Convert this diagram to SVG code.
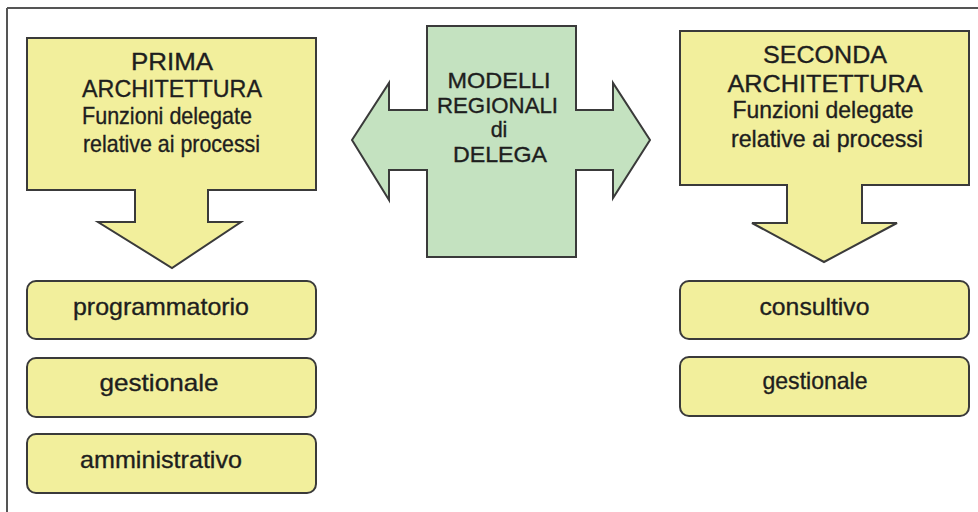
<svg xmlns="http://www.w3.org/2000/svg" width="978" height="512" viewBox="0 0 978 512">
<style>
.frame{stroke:#555;stroke-width:2;fill:none}
.y{fill:#f2ef9c;stroke:#3a3a3a;stroke-width:2;stroke-linejoin:miter}
.g{fill:#c4e2c0;stroke:#3a3a3a;stroke-width:2}
text{font-family:"Liberation Sans",Arial,sans-serif;fill:#1e1e1e;stroke:#1e1e1e;stroke-width:0.35;text-anchor:middle;font-size:24px}
.m{font-size:21.5px}
</style>
<rect width="978" height="512" fill="#fff"/>
<g id="frame">
<line class="frame" x1="7" y1="8" x2="978" y2="8"/>
<line class="frame" x1="7" y1="8" x2="7" y2="512"/>
</g>
<g id="prima">
<path class="y" d="M27,38 H316 V190 H208 V222 H241 L172,268 L98,222 H135 V190 H27 Z"/>
<text x="172" y="70" textLength="82" lengthAdjust="spacingAndGlyphs">PRIMA</text>
<text x="172" y="97" textLength="180" lengthAdjust="spacingAndGlyphs">ARCHITETTURA</text>
<text x="167" y="124" font-size="23" textLength="170" lengthAdjust="spacingAndGlyphs">Funzioni delegate</text>
<text x="171.5" y="152" font-size="23" textLength="177" lengthAdjust="spacingAndGlyphs">relative ai processi</text>
</g>
<g id="modelli">
<path class="g" d="M427,26 H576 V110 H613 V83 L650,140 L613,198 V170 H576 V257 H427 V170 H389 V200 L352,140 L389,83 V110 H427 Z"/>
<text class="m" x="499" y="88" textLength="103" lengthAdjust="spacingAndGlyphs">MODELLI</text>
<text class="m" x="497.5" y="113" textLength="121" lengthAdjust="spacingAndGlyphs">REGIONALI</text>
<text class="m" x="499" y="137">di</text>
<text class="m" x="500" y="162" textLength="94" lengthAdjust="spacingAndGlyphs">DELEGA</text>
</g>
<g id="seconda">
<path class="y" d="M680,31 H969 V185 H862 V223 H897 L824,262 L752,223 H787 V185 H680 Z"/>
<text x="825" y="63" textLength="124" lengthAdjust="spacingAndGlyphs">SECONDA</text>
<text x="825" y="92" textLength="195" lengthAdjust="spacingAndGlyphs">ARCHITETTURA</text>
<text x="823" y="118" font-size="23" textLength="181" lengthAdjust="spacingAndGlyphs">Funzioni delegate</text>
<text x="827" y="147" font-size="23" textLength="192" lengthAdjust="spacingAndGlyphs">relative ai processi</text>
</g>
<g id="programmatorio">
<rect class="y" x="27" y="281" width="289" height="58" rx="9"/>
<text x="161" y="315" textLength="176" lengthAdjust="spacingAndGlyphs">programmatorio</text>
</g>
<g id="gestionale-1">
<rect class="y" x="27" y="358" width="289" height="59" rx="9"/>
<text x="159" y="391" textLength="119" lengthAdjust="spacingAndGlyphs">gestionale</text>
</g>
<g id="amministrativo">
<rect class="y" x="27" y="434" width="289" height="59" rx="9"/>
<text x="161" y="468" textLength="162" lengthAdjust="spacingAndGlyphs">amministrativo</text>
</g>
<g id="consultivo">
<rect class="y" x="680" y="281" width="289" height="58" rx="9"/>
<text x="814.5" y="315" textLength="110" lengthAdjust="spacingAndGlyphs">consultivo</text>
</g>
<g id="gestionale-2">
<rect class="y" x="680" y="357" width="289" height="59" rx="9"/>
<text x="815" y="389" textLength="105" lengthAdjust="spacingAndGlyphs">gestionale</text>
</g>
<g id="connectors"></g>
</svg>
